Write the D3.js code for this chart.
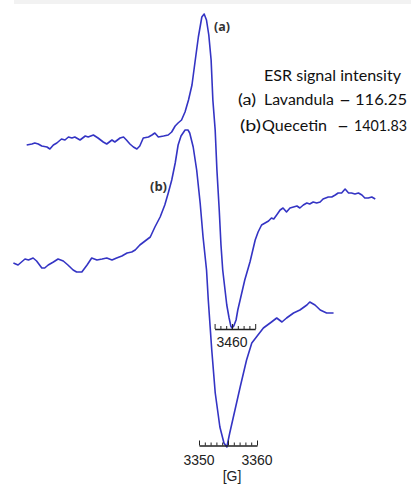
<!DOCTYPE html>
<html><head><meta charset="utf-8">
<script src="https://cdn.jsdelivr.net/npm/d3@7"></script>
<style>html,body{margin:0;padding:0;background:#fff;}svg{display:block;}</style>
</head><body>
<svg id="c" width="411" height="484"></svg>
<script>
// ---- data ----
// Spectrum (a) Lavandula: magnetic field [G] and intensity [a.u.]
const fieldA = [3424.6,3425.5,3426.0,3426.6,3427.2,3428.1,3428.6,3429.2,3429.8,3430.6,3431.2,3431.8,3432.4,3432.9,3433.8,3434.7,3435.2,3436.1,3436.9,3437.8,3438.4,3439.3,3439.8,3440.7,3441.3,3441.8,3442.4,3443.0,3443.6,3444.1,3444.7,3445.6,3446.2,3446.7,3447.3,3448.2,3449.0,3449.6,3450.2,3450.7,3451.3,3451.9,3452.5,3453.1,3453.6,3454.2,3454.8,3455.2,3455.6,3456.0,3456.4,3456.7,3457.1,3457.4,3457.8,3458.1,3458.4,3458.8,3459.1,3459.5,3459.8,3460.0,3460.3,3460.7,3461.0,3461.4,3462.2,3463.1,3464.0,3464.5,3465.1,3465.7,3466.3,3466.8,3467.2,3467.7,3468.3,3468.8,3469.4,3470.0,3470.6,3471.2,3471.7,3472.3,3472.9,3473.4,3474.0,3474.6,3475.2,3475.7,3476.6,3477.2,3477.8,3478.3,3478.9,3479.5,3480.1,3480.6,3481.2,3481.8,3482.4,3482.9,3483.5,3484.1,3484.7];
const intensityA = [95,96,97,96,94,93,91,95,97,101,100,103,102,103,100,104,103,105,102,98,96,100,98,102,103,100,96,93,91,94,102,103,105,107,103,104,105,108,114,117,120,128,140,155,177,203,223,226,220,205,180,140,110,70,30,-5,-30,-50,-65,-78,-86,-88,-86,-80,-70,-60,-40,-22,0,8,15,17,19,22,21,25,30,32,28,32,33,34,32,35,37,36,38,37,38,41,43,43,45,47,47,51,47,47,46,47,45,42,42,43,41];
// Spectrum (b) Quecetin
const fieldB = [3318.0,3318.8,3319.4,3320.0,3320.6,3321.4,3322.0,3322.9,3323.4,3324.0,3324.9,3325.7,3326.6,3327.4,3328.3,3328.9,3329.8,3330.7,3331.5,3332.4,3333.3,3334.1,3335.0,3335.8,3336.7,3337.6,3338.4,3339.0,3339.8,3340.7,3341.6,3342.4,3343.3,3344.1,3344.7,3345.3,3345.9,3346.4,3346.9,3347.6,3348.1,3348.4,3349.0,3349.6,3350.2,3350.7,3351.3,3351.6,3352.2,3352.8,3353.6,3354.3,3354.8,3355.3,3356.2,3357.1,3358.2,3359.1,3359.9,3361.1,3362.5,3363.4,3364.3,3365.1,3366.3,3367.4,3368.6,3369.1,3370.0,3370.9,3372.0,3373.2];
const intensityB = [-23,-25,-22,-19,-20,-18,-21,-28,-28,-25,-22,-19,-21,-25,-30,-32,-32,-25,-18,-20,-19,-18,-20,-18,-16,-13,-12,-10,-5,-1,3,13,23,35,47,60,77,95,104,110,110,107,93,70,37,3,-30,-60,-110,-153,-187,-203,-207,-193,-170,-147,-120,-103,-97,-88,-82,-78,-82,-78,-73,-70,-65,-62,-65,-70,-73,-73];
// Field-scale tick labels
const tickLabelsA = [3460];
const tickLabelsB = [3350, 3360];
const ticksA = [3457,3458,3459,3460,3461,3462,3463,3464];
const ticksB = [3350,3351,3352,3353,3354,3355,3356,3357,3358,3359,3360];
const majorA = [3457,3460,3464];
const majorB = [3350,3355,3360];
// Legend
const legendTitle = "ESR signal intensity";
const legendKeys = ["(a)", "(b)"];
const legendNames = ["Lavandula", "Quecetin"];
const legendValues = ["116.25", "1401.83"];
const unitLabel = "[G]";

// ---- drawing ----
const svg = d3.select("#c");
const blue = "#3434c4";
const pxPerG = 5.8;
const xA = d3.scaleLinear().domain([3460, 3470]).range([232, 232 + 10*pxPerG]);
const xB = d3.scaleLinear().domain([3350, 3360]).range([199, 199 + 10*pxPerG]);
const y = d3.scaleLinear().domain([-200, 200]).range([440, 40]);

// faint band at top
svg.append("rect").attr("x",14).attr("y",0).attr("width",397).attr("height",4).attr("fill","#f2f2f2");

const lineA = d3.line().x((d,i)=>xA(fieldA[i])).y((d,i)=>y(intensityA[i])).curve(d3.curveLinear);
const lineB = d3.line().x((d,i)=>xB(fieldB[i])).y((d,i)=>y(intensityB[i])).curve(d3.curveLinear);

svg.append("path").attr("d", lineA(fieldA)).attr("fill","none").attr("stroke",blue).attr("stroke-width",1.6).attr("stroke-linejoin","round");
svg.append("path").attr("d", lineB(fieldB)).attr("fill","none").attr("stroke",blue).attr("stroke-width",1.6).attr("stroke-linejoin","round");

// field rulers (axis limited to the ruler's own span)
function ruler(scale, ticks, major, yPos) {
  const lo = d3.min(ticks), hi = d3.max(ticks);
  const s = scale.copy().domain([lo, hi]).range([scale(lo), scale(hi)]);
  const g = svg.append("g").attr("transform", `translate(0,${yPos})`);
  g.call(d3.axisTop(s).tickValues(ticks).tickSize(3).tickSizeOuter(0).tickFormat(""));
  g.select(".domain").attr("stroke","#222").attr("stroke-width",1.4);
  g.selectAll(".tick line").attr("stroke","#222").attr("stroke-width",1)
    .attr("y2", d => major.includes(d) ? -5 : -3);
  return g;
}
const yTop = y(-89), yBot = y(-205.5);
ruler(xA, ticksA, majorA, yTop);
ruler(xB, ticksB, majorB, yBot);

const tickFont = "'Liberation Sans',Arial,sans-serif";
svg.selectAll("text.tla").data(tickLabelsA).join("text")
  .attr("x", d=>xA(d)).attr("y", yTop+18).attr("text-anchor","middle")
  .attr("font-family",tickFont).attr("font-size",14).attr("fill","#222").text(d=>d);
svg.selectAll("text.tlb").data(tickLabelsB).join("text")
  .attr("x", d=>xB(d)).attr("y", yBot+19).attr("text-anchor","middle")
  .attr("font-family",tickFont).attr("font-size",14).attr("fill","#222").text(d=>d);
svg.append("text").attr("x", xB(3355)+4).attr("y", yBot+35).attr("text-anchor","middle")
  .attr("font-family",tickFont).attr("font-size",14).attr("fill","#222").text(unitLabel);

// curve labels
const lblFont = "'Open Sans','Noto Sans',sans-serif";
svg.append("text").attr("x", 214).attr("y", 31).attr("font-family",lblFont).attr("font-size",12).attr("font-weight",700).attr("fill","#333")
  .attr("textLength",16).attr("lengthAdjust","spacingAndGlyphs").text(legendKeys[0]);
svg.append("text").attr("x", 150).attr("y", 191).attr("font-family",lblFont).attr("font-size",12).attr("font-weight",700).attr("fill","#333")
  .attr("textLength",17).attr("lengthAdjust","spacingAndGlyphs").text(legendKeys[1]);

// legend
const legFont = "Lato,'Open Sans',sans-serif";
svg.append("text").attr("x", 264).attr("y", 81).attr("font-family",legFont).attr("font-size",15.5)
  .attr("fill","#111").attr("textLength",137).attr("lengthAdjust","spacingAndGlyphs").text(legendTitle);
const rows = [
  {key:{x:238,w:18}, name:{x:264,w:70}, dash:{x:339,w:12}, val:{x:355,w:52}, y:105},
  {key:{x:240,w:21}, name:{x:262,w:65}, dash:{x:337,w:12}, val:{x:354,w:53}, y:131}
];
rows.forEach((r,i)=>{
  const t = (x,w,s,fw)=>svg.append("text").attr("x",x).attr("y",r.y).attr("font-family",legFont).attr("font-size",15.5)
    .attr("font-weight",fw||400).attr("fill","#111").attr("textLength",w).attr("lengthAdjust","spacingAndGlyphs").text(s);
  t(r.key.x, r.key.w, legendKeys[i]);
  t(r.name.x, r.name.w, legendNames[i]);
  t(r.dash.x, r.dash.w, "–", 700);
  t(r.val.x, r.val.w, legendValues[i]);
});
</script>
</body></html>
